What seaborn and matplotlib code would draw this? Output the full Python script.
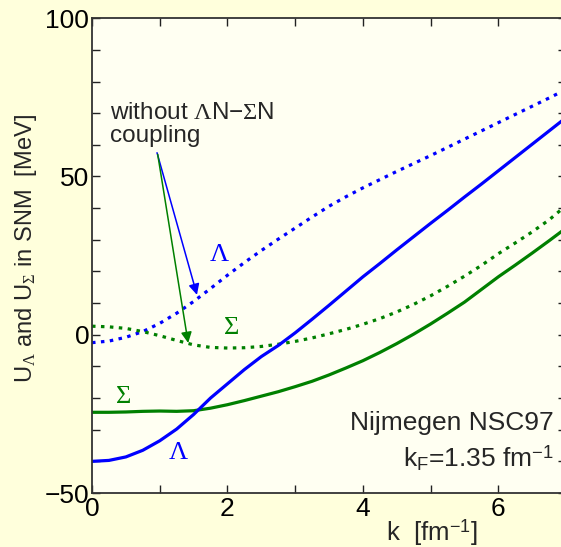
import matplotlib
matplotlib.use("Agg")
import matplotlib.pyplot as plt
from matplotlib.ticker import MultipleLocator, FuncFormatter
import seaborn as sns
import pandas as pd

# momentum grid [fm^-1]
k = [0.0, 0.25, 0.5, 0.75, 1.0, 1.25, 1.5, 1.75, 2.0, 2.25, 2.5, 2.75, 3.0, 3.25,
     3.5, 3.75, 4.0, 4.25, 4.5, 4.75, 5.0, 5.25, 5.5, 5.75, 6.0, 6.25, 6.5, 6.75, 7.0]

# single-particle potentials [MeV], full coupled calculation
u_lambda = [-40.0, -39.7, -38.6, -36.5, -33.5, -29.8, -25.2, -20.0, -15.5, -11.0,
            -6.9, -3.4, 0.6, 4.9, 9.3, 13.8, 18.3, 22.5, 26.8, 31.0, 35.2, 39.3,
            43.5, 47.6, 51.8, 56.0, 60.2, 64.4, 68.6]
u_sigma = [-24.5, -24.5, -24.4, -24.2, -24.1, -24.2, -24.0, -23.2, -22.1, -20.8,
           -19.4, -18.0, -16.4, -14.7, -12.7, -10.5, -8.2, -5.6, -2.8, 0.2, 3.4,
           6.8, 10.3, 14.3, 18.3, 22.0, 25.8, 29.7, 33.7]

# without Lambda N - Sigma N coupling
u_lambda_nc = [-2.5, -2.0, -0.8, 1.0, 3.6, 6.8, 10.5, 14.6, 18.8, 22.8, 26.6, 30.2,
               33.7, 37.2, 40.6, 43.6, 46.4, 49.0, 51.6, 54.1, 56.6, 59.2, 61.8,
               64.4, 67.0, 69.6, 72.2, 74.8, 77.5]
u_sigma_nc = [2.7, 2.5, 2.0, 1.0, -0.3, -1.8, -3.2, -4.0, -4.2, -4.1, -3.7, -3.0,
              -2.1, -1.0, 0.3, 1.7, 3.3, 5.1, 7.2, 9.6, 12.3, 15.3, 18.5, 21.9,
              25.6, 29.0, 32.5, 36.3, 40.8]

sns.set_theme(style="ticks")
plt.rcParams["font.family"] = ["Liberation Sans", "DejaVu Sans"]
plt.rcParams["mathtext.fontset"] = "custom"
plt.rcParams["mathtext.rm"] = "Liberation Serif"
plt.rcParams["mathtext.it"] = "Liberation Serif:italic"
plt.rcParams["mathtext.sf"] = "Liberation Sans"

BLUE = "#0000ff"
GREEN = "#008000"
FIG_BG = "#ffffdc"
AX_BG = "#fffff2"

df = pd.DataFrame({"k": k, "UL": u_lambda, "US": u_sigma,
                   "ULnc": u_lambda_nc, "USnc": u_sigma_nc})

fig = plt.figure(figsize=(5.61, 5.47), dpi=100)
fig.patch.set_facecolor(FIG_BG)
ax = fig.add_axes([0.164, 0.0987, 0.845, 0.868])
ax.set_facecolor(AX_BG)

dot = (0, (1.1, 1.7))
sns.lineplot(data=df, x="k", y="ULnc", ax=ax, color=BLUE, lw=2.3,
             linestyle=dot, dash_capstyle="butt")
sns.lineplot(data=df, x="k", y="USnc", ax=ax, color=GREEN, lw=2.3,
             linestyle=dot, dash_capstyle="butt")
sns.lineplot(data=df, x="k", y="US", ax=ax, color=GREEN, lw=2.3)
sns.lineplot(data=df, x="k", y="UL", ax=ax, color=BLUE, lw=2.3)

ax.set_xlim(0, 7)
ax.set_ylim(-50, 100)

ax.xaxis.set_major_locator(MultipleLocator(1))
ax.yaxis.set_major_locator(MultipleLocator(10))
ax.xaxis.set_major_formatter(FuncFormatter(
    lambda v, p: f"{int(round(v))}" if int(round(v)) % 2 == 0 else ""))
ax.yaxis.set_major_formatter(FuncFormatter(
    lambda v, p: (f"{int(round(v))}".replace("-", "\u2212")
                  if int(round(v)) % 50 == 0 else "")))
ax.tick_params(direction="in", length=6, width=1, top=True, right=True,
               labelsize=19, colors="#222222", labelcolor="black")
ax.tick_params(axis="y", pad=2)
ax.tick_params(axis="x", pad=3)
for s in ax.spines.values():
    s.set_color("#333333")
    s.set_linewidth(1.3)

ax.set_ylabel(r"U$_{\Lambda}$ and U$_{\Sigma}$ in SNM  [MeV]", fontsize=17)
ax.yaxis.set_label_coords(-0.112, 0.515)
ax.set_xlabel(r"k  [fm$^{\mathsf{-1}}$]", fontsize=18.5)
ax.xaxis.set_label_coords(0.717, -0.050)

# curve labels
lab = dict(fontsize=19, family="Liberation Serif", ha="center", va="center")
ax.text(1.88, 25.3, "\u039b", color=BLUE, **lab)
ax.text(1.28, -37.3, "\u039b", color=BLUE, **lab)
ax.text(2.07, 2.2, "\u03a3", color=GREEN, **lab)
ax.text(0.47, -19.6, "\u03a3", color=GREEN, **lab)

# annotation for the uncoupled curves
ax.text(0.27, 66.4, "without $\\Lambda$N\u2212$\\Sigma$N\ncoupling", fontsize=17.5,
        ha="left", va="center", linespacing=1.05)
ax.annotate("", xy=(1.55, 12.6), xytext=(0.96, 57.5),
            arrowprops=dict(arrowstyle="-|>", color=BLUE, lw=1.1,
                            mutation_scale=16, shrinkA=0, shrinkB=0))
ax.annotate("", xy=(1.42, -2.6), xytext=(0.97, 57.0),
            arrowprops=dict(arrowstyle="-|>", color=GREEN, lw=1.1,
                            mutation_scale=16, shrinkA=0, shrinkB=0))

ax.text(6.82, -30.0, "Nijmegen NSC97", fontsize=19, ha="right", va="baseline")
ax.text(6.82, -41.7, r"k$_{\mathsf{F}}$=1.35 fm$^{\mathsf{-1}}$", fontsize=19,
        ha="right", va="baseline")

fig.savefig("out.png", dpi=100, facecolor=FIG_BG)
